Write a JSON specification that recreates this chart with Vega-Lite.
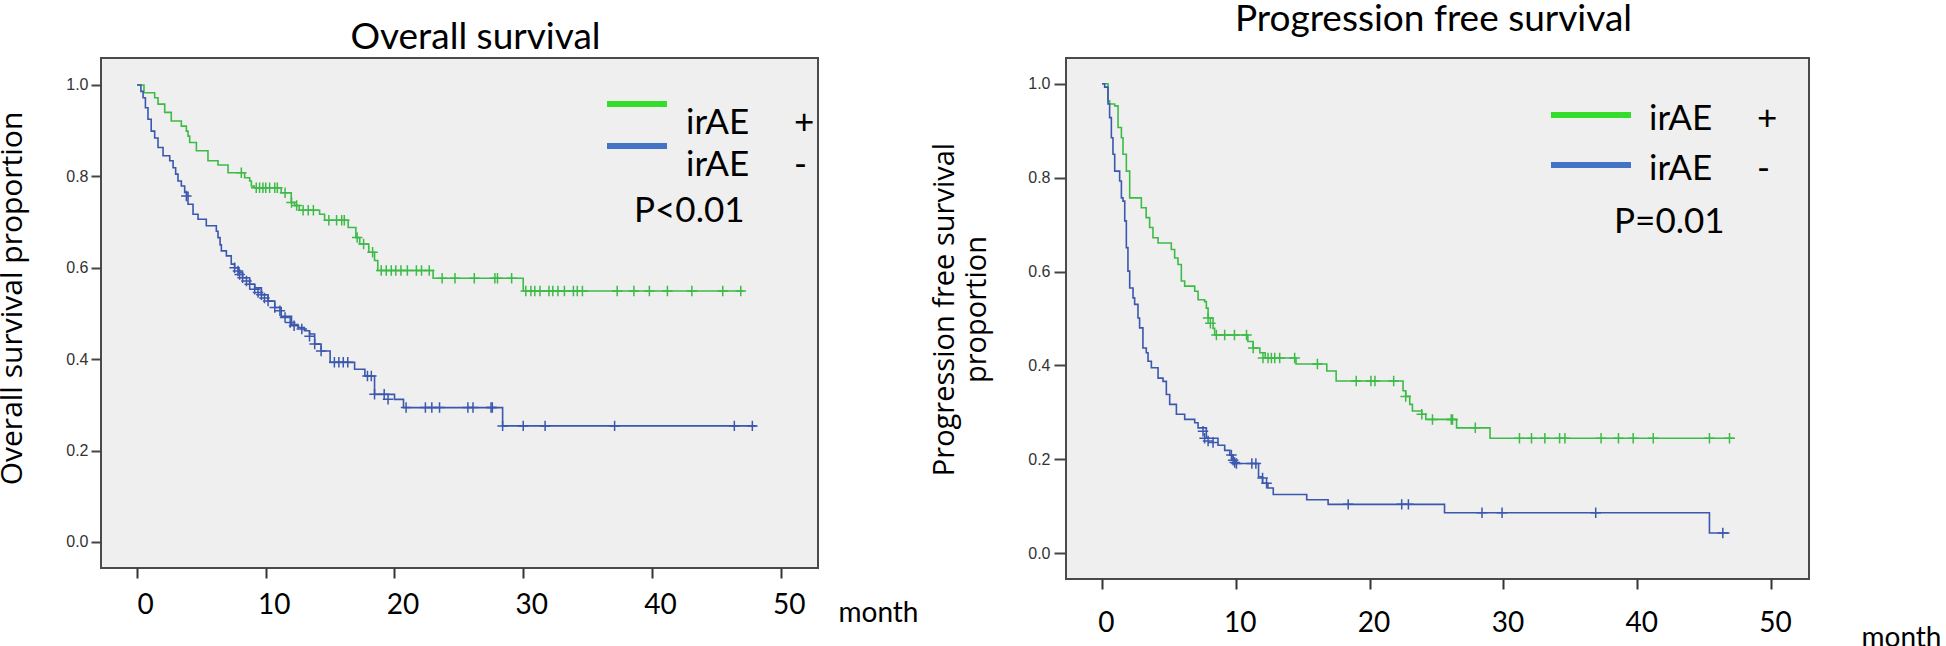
{
  "$schema": "https://vega.github.io/schema/vega-lite/v6.json",
  "padding": {"left": -5, "top": 0, "right": 0, "bottom": 0},
  "autosize": {"type": "pad"},
  "background": "white",
  "config": {
    "view": {"fill": "#efefef", "stroke": "#4a4a4a", "strokeWidth": 2},
    "font": "Lato"
  },
  "datasets": {
    "osCurve": [
      {"g": "irAE+", "t": 0, "s": 1.0}, {"g": "irAE+", "t": 0.54, "s": 0.983}, {"g": "irAE+", "t": 1.37, "s": 0.972}, {"g": "irAE+", "t": 1.63, "s": 0.958},
      {"g": "irAE+", "t": 2.15, "s": 0.94}, {"g": "irAE+", "t": 2.66, "s": 0.921}, {"g": "irAE+", "t": 3.44, "s": 0.91}, {"g": "irAE+", "t": 3.83, "s": 0.899},
      {"g": "irAE+", "t": 3.96, "s": 0.888}, {"g": "irAE+", "t": 4.09, "s": 0.874}, {"g": "irAE+", "t": 4.61, "s": 0.856}, {"g": "irAE+", "t": 5.51, "s": 0.834},
      {"g": "irAE+", "t": 6.29, "s": 0.825}, {"g": "irAE+", "t": 7.07, "s": 0.808}, {"g": "irAE+", "t": 8.36, "s": 0.797}, {"g": "irAE+", "t": 8.75, "s": 0.79},
      {"g": "irAE+", "t": 8.88, "s": 0.779}, {"g": "irAE+", "t": 9.1, "s": 0.775}, {"g": "irAE+", "t": 11.2, "s": 0.764}, {"g": "irAE+", "t": 11.98, "s": 0.743},
      {"g": "irAE+", "t": 12.24, "s": 0.736}, {"g": "irAE+", "t": 12.6, "s": 0.726}, {"g": "irAE+", "t": 14.18, "s": 0.717}, {"g": "irAE+", "t": 14.57, "s": 0.704},
      {"g": "irAE+", "t": 16.4, "s": 0.688}, {"g": "irAE+", "t": 17.0, "s": 0.666}, {"g": "irAE+", "t": 17.3, "s": 0.652}, {"g": "irAE+", "t": 18.0, "s": 0.634},
      {"g": "irAE+", "t": 18.45, "s": 0.616}, {"g": "irAE+", "t": 18.7, "s": 0.594}, {"g": "irAE+", "t": 23.0, "s": 0.577}, {"g": "irAE+", "t": 30.0, "s": 0.549},
      {"g": "irAE+", "t": 47.1, "s": 0.549},
      {"g": "irAE-", "t": 0, "s": 1.0}, {"g": "irAE-", "t": 0.3, "s": 0.986}, {"g": "irAE-", "t": 0.47, "s": 0.972}, {"g": "irAE-", "t": 0.65, "s": 0.95},
      {"g": "irAE-", "t": 0.85, "s": 0.925}, {"g": "irAE-", "t": 1.1, "s": 0.899}, {"g": "irAE-", "t": 1.37, "s": 0.884}, {"g": "irAE-", "t": 1.63, "s": 0.863},
      {"g": "irAE-", "t": 2.02, "s": 0.845}, {"g": "irAE-", "t": 2.54, "s": 0.834}, {"g": "irAE-", "t": 2.8, "s": 0.819}, {"g": "irAE-", "t": 3.0, "s": 0.805},
      {"g": "irAE-", "t": 3.18, "s": 0.79}, {"g": "irAE-", "t": 3.44, "s": 0.779}, {"g": "irAE-", "t": 3.7, "s": 0.765}, {"g": "irAE-", "t": 3.96, "s": 0.739},
      {"g": "irAE-", "t": 4.35, "s": 0.717}, {"g": "irAE-", "t": 4.74, "s": 0.706}, {"g": "irAE-", "t": 5.38, "s": 0.692}, {"g": "irAE-", "t": 6.16, "s": 0.68},
      {"g": "irAE-", "t": 6.29, "s": 0.666}, {"g": "irAE-", "t": 6.45, "s": 0.65}, {"g": "irAE-", "t": 6.55, "s": 0.637}, {"g": "irAE-", "t": 6.94, "s": 0.626},
      {"g": "irAE-", "t": 7.32, "s": 0.608}, {"g": "irAE-", "t": 7.58, "s": 0.6}, {"g": "irAE-", "t": 7.9, "s": 0.59}, {"g": "irAE-", "t": 8.2, "s": 0.578},
      {"g": "irAE-", "t": 8.75, "s": 0.564}, {"g": "irAE-", "t": 9.14, "s": 0.556}, {"g": "irAE-", "t": 9.66, "s": 0.541}, {"g": "irAE-", "t": 10.18, "s": 0.527},
      {"g": "irAE-", "t": 10.7, "s": 0.513}, {"g": "irAE-", "t": 11.2, "s": 0.494}, {"g": "irAE-", "t": 12.0, "s": 0.476}, {"g": "irAE-", "t": 12.5, "s": 0.469},
      {"g": "irAE-", "t": 13.0, "s": 0.462}, {"g": "irAE-", "t": 13.4, "s": 0.455}, {"g": "irAE-", "t": 13.8, "s": 0.433}, {"g": "irAE-", "t": 14.3, "s": 0.418},
      {"g": "irAE-", "t": 15.0, "s": 0.393}, {"g": "irAE-", "t": 16.9, "s": 0.378}, {"g": "irAE-", "t": 17.7, "s": 0.363}, {"g": "irAE-", "t": 18.45, "s": 0.323},
      {"g": "irAE-", "t": 20.0, "s": 0.312}, {"g": "irAE-", "t": 20.7, "s": 0.294}, {"g": "irAE-", "t": 28.4, "s": 0.254}, {"g": "irAE-", "t": 48.1, "s": 0.254}
    ],
    "osCens": [
      {"g": "irAE+", "t": 8.1, "s": 0.808}, {"g": "irAE+", "t": 9.26, "s": 0.775}, {"g": "irAE+", "t": 9.52, "s": 0.775}, {"g": "irAE+", "t": 9.78, "s": 0.775},
      {"g": "irAE+", "t": 10.0, "s": 0.775}, {"g": "irAE+", "t": 10.3, "s": 0.775}, {"g": "irAE+", "t": 10.7, "s": 0.775}, {"g": "irAE+", "t": 10.9, "s": 0.775},
      {"g": "irAE+", "t": 11.5, "s": 0.764}, {"g": "irAE+", "t": 12.0, "s": 0.743}, {"g": "irAE+", "t": 12.4, "s": 0.736}, {"g": "irAE+", "t": 12.9, "s": 0.726},
      {"g": "irAE+", "t": 13.3, "s": 0.726}, {"g": "irAE+", "t": 13.7, "s": 0.726}, {"g": "irAE+", "t": 14.9, "s": 0.704}, {"g": "irAE+", "t": 15.5, "s": 0.704},
      {"g": "irAE+", "t": 15.9, "s": 0.704}, {"g": "irAE+", "t": 16.1, "s": 0.704}, {"g": "irAE+", "t": 17.1, "s": 0.666}, {"g": "irAE+", "t": 17.6, "s": 0.652},
      {"g": "irAE+", "t": 18.3, "s": 0.634},
      {"g": "irAE+", "t": 18.97, "s": 0.594}, {"g": "irAE+", "t": 19.36, "s": 0.594}, {"g": "irAE+", "t": 19.75, "s": 0.594}, {"g": "irAE+", "t": 20.1, "s": 0.594},
      {"g": "irAE+", "t": 20.5, "s": 0.594}, {"g": "irAE+", "t": 21.0, "s": 0.594}, {"g": "irAE+", "t": 21.7, "s": 0.594}, {"g": "irAE+", "t": 22.1, "s": 0.594},
      {"g": "irAE+", "t": 22.7, "s": 0.594},
      {"g": "irAE+", "t": 23.7, "s": 0.577}, {"g": "irAE+", "t": 24.7, "s": 0.577}, {"g": "irAE+", "t": 26.2, "s": 0.577}, {"g": "irAE+", "t": 27.8, "s": 0.577},
      {"g": "irAE+", "t": 28.0, "s": 0.577}, {"g": "irAE+", "t": 29.1, "s": 0.577},
      {"g": "irAE+", "t": 30.2, "s": 0.549}, {"g": "irAE+", "t": 30.6, "s": 0.549}, {"g": "irAE+", "t": 30.9, "s": 0.549}, {"g": "irAE+", "t": 31.3, "s": 0.549},
      {"g": "irAE+", "t": 32.0, "s": 0.549}, {"g": "irAE+", "t": 32.3, "s": 0.549}, {"g": "irAE+", "t": 32.7, "s": 0.549}, {"g": "irAE+", "t": 33.2, "s": 0.549},
      {"g": "irAE+", "t": 33.9, "s": 0.549}, {"g": "irAE+", "t": 34.2, "s": 0.549}, {"g": "irAE+", "t": 34.6, "s": 0.549}, {"g": "irAE+", "t": 37.3, "s": 0.549},
      {"g": "irAE+", "t": 38.6, "s": 0.549}, {"g": "irAE+", "t": 39.8, "s": 0.549}, {"g": "irAE+", "t": 41.2, "s": 0.549}, {"g": "irAE+", "t": 43.1, "s": 0.549},
      {"g": "irAE+", "t": 45.5, "s": 0.549}, {"g": "irAE+", "t": 46.9, "s": 0.549},
      {"g": "irAE-", "t": 3.83, "s": 0.757}, {"g": "irAE-", "t": 7.58, "s": 0.6}, {"g": "irAE-", "t": 7.84, "s": 0.593}, {"g": "irAE-", "t": 7.97, "s": 0.585},
      {"g": "irAE-", "t": 8.2, "s": 0.578}, {"g": "irAE-", "t": 8.5, "s": 0.571}, {"g": "irAE-", "t": 8.75, "s": 0.564}, {"g": "irAE-", "t": 9.14, "s": 0.553},
      {"g": "irAE-", "t": 9.4, "s": 0.546}, {"g": "irAE-", "t": 9.66, "s": 0.541}, {"g": "irAE-", "t": 9.9, "s": 0.534}, {"g": "irAE-", "t": 10.18, "s": 0.527},
      {"g": "irAE-", "t": 10.7, "s": 0.513}, {"g": "irAE-", "t": 11.1, "s": 0.506}, {"g": "irAE-", "t": 11.5, "s": 0.491}, {"g": "irAE-", "t": 11.9, "s": 0.48},
      {"g": "irAE-", "t": 12.2, "s": 0.473}, {"g": "irAE-", "t": 12.8, "s": 0.466}, {"g": "irAE-", "t": 13.4, "s": 0.45}, {"g": "irAE-", "t": 13.8, "s": 0.433},
      {"g": "irAE-", "t": 14.3, "s": 0.418}, {"g": "irAE-", "t": 15.33, "s": 0.393}, {"g": "irAE-", "t": 15.68, "s": 0.393}, {"g": "irAE-", "t": 16.02, "s": 0.393},
      {"g": "irAE-", "t": 16.37, "s": 0.393}, {"g": "irAE-", "t": 17.9, "s": 0.363}, {"g": "irAE-", "t": 18.2, "s": 0.363}, {"g": "irAE-", "t": 18.45, "s": 0.323},
      {"g": "irAE-", "t": 19.2, "s": 0.323}, {"g": "irAE-", "t": 19.5, "s": 0.312},
      {"g": "irAE-", "t": 20.9, "s": 0.294}, {"g": "irAE-", "t": 22.4, "s": 0.294}, {"g": "irAE-", "t": 22.9, "s": 0.294}, {"g": "irAE-", "t": 23.5, "s": 0.294},
      {"g": "irAE-", "t": 25.7, "s": 0.294}, {"g": "irAE-", "t": 26.1, "s": 0.294}, {"g": "irAE-", "t": 27.5, "s": 0.294}, {"g": "irAE-", "t": 27.6, "s": 0.294},
      {"g": "irAE-", "t": 28.4, "s": 0.254}, {"g": "irAE-", "t": 30.0, "s": 0.254}, {"g": "irAE-", "t": 31.7, "s": 0.254}, {"g": "irAE-", "t": 37.1, "s": 0.254},
      {"g": "irAE-", "t": 46.4, "s": 0.254}, {"g": "irAE-", "t": 47.8, "s": 0.254}
    ],
    "pfsCurve": [
      {"g": "irAE+", "t": 0, "s": 1.0}, {"g": "irAE+", "t": 0.45, "s": 0.964}, {"g": "irAE+", "t": 0.57, "s": 0.957}, {"g": "irAE+", "t": 0.95, "s": 0.953},
      {"g": "irAE+", "t": 1.2, "s": 0.907}, {"g": "irAE+", "t": 1.45, "s": 0.885}, {"g": "irAE+", "t": 1.57, "s": 0.85}, {"g": "irAE+", "t": 1.82, "s": 0.814},
      {"g": "irAE+", "t": 2.07, "s": 0.757}, {"g": "irAE+", "t": 2.94, "s": 0.736}, {"g": "irAE+", "t": 3.3, "s": 0.715}, {"g": "irAE+", "t": 3.56, "s": 0.694},
      {"g": "irAE+", "t": 3.81, "s": 0.672}, {"g": "irAE+", "t": 4.19, "s": 0.661}, {"g": "irAE+", "t": 5.18, "s": 0.647}, {"g": "irAE+", "t": 5.43, "s": 0.629},
      {"g": "irAE+", "t": 5.68, "s": 0.615}, {"g": "irAE+", "t": 5.93, "s": 0.58}, {"g": "irAE+", "t": 6.18, "s": 0.569}, {"g": "irAE+", "t": 6.93, "s": 0.558},
      {"g": "irAE+", "t": 7.18, "s": 0.54}, {"g": "irAE+", "t": 7.67, "s": 0.536}, {"g": "irAE+", "t": 7.8, "s": 0.522}, {"g": "irAE+", "t": 7.93, "s": 0.501},
      {"g": "irAE+", "t": 8.3, "s": 0.479}, {"g": "irAE+", "t": 8.42, "s": 0.465}, {"g": "irAE+", "t": 10.9, "s": 0.451}, {"g": "irAE+", "t": 11.3, "s": 0.437},
      {"g": "irAE+", "t": 11.8, "s": 0.427}, {"g": "irAE+", "t": 12.2, "s": 0.416}, {"g": "irAE+", "t": 14.5, "s": 0.403}, {"g": "irAE+", "t": 16.8, "s": 0.388},
      {"g": "irAE+", "t": 17.5, "s": 0.367}, {"g": "irAE+", "t": 22.5, "s": 0.346}, {"g": "irAE+", "t": 22.7, "s": 0.334}, {"g": "irAE+", "t": 23.0, "s": 0.317},
      {"g": "irAE+", "t": 23.2, "s": 0.303}, {"g": "irAE+", "t": 23.9, "s": 0.296}, {"g": "irAE+", "t": 24.2, "s": 0.285}, {"g": "irAE+", "t": 26.5, "s": 0.267},
      {"g": "irAE+", "t": 29.0, "s": 0.245}, {"g": "irAE+", "t": 47.3, "s": 0.245},
      {"g": "irAE-", "t": 0, "s": 1.0}, {"g": "irAE-", "t": 0.2, "s": 0.993}, {"g": "irAE-", "t": 0.45, "s": 0.957}, {"g": "irAE-", "t": 0.57, "s": 0.928},
      {"g": "irAE-", "t": 0.7, "s": 0.885}, {"g": "irAE-", "t": 0.82, "s": 0.85}, {"g": "irAE-", "t": 0.95, "s": 0.814}, {"g": "irAE-", "t": 1.32, "s": 0.793},
      {"g": "irAE-", "t": 1.45, "s": 0.757}, {"g": "irAE-", "t": 1.57, "s": 0.75}, {"g": "irAE-", "t": 1.7, "s": 0.708}, {"g": "irAE-", "t": 1.82, "s": 0.651},
      {"g": "irAE-", "t": 1.94, "s": 0.601}, {"g": "irAE-", "t": 2.07, "s": 0.565}, {"g": "irAE-", "t": 2.32, "s": 0.544}, {"g": "irAE-", "t": 2.44, "s": 0.53},
      {"g": "irAE-", "t": 2.69, "s": 0.501}, {"g": "irAE-", "t": 2.81, "s": 0.48}, {"g": "irAE-", "t": 3.06, "s": 0.437}, {"g": "irAE-", "t": 3.31, "s": 0.427},
      {"g": "irAE-", "t": 3.44, "s": 0.409}, {"g": "irAE-", "t": 3.69, "s": 0.395}, {"g": "irAE-", "t": 4.19, "s": 0.373}, {"g": "irAE-", "t": 4.56, "s": 0.366},
      {"g": "irAE-", "t": 4.81, "s": 0.338}, {"g": "irAE-", "t": 5.06, "s": 0.317}, {"g": "irAE-", "t": 5.56, "s": 0.296}, {"g": "irAE-", "t": 6.18, "s": 0.285},
      {"g": "irAE-", "t": 6.93, "s": 0.278}, {"g": "irAE-", "t": 7.18, "s": 0.267}, {"g": "irAE-", "t": 7.8, "s": 0.245}, {"g": "irAE-", "t": 8.67, "s": 0.23},
      {"g": "irAE-", "t": 9.17, "s": 0.219}, {"g": "irAE-", "t": 9.55, "s": 0.209}, {"g": "irAE-", "t": 9.79, "s": 0.198}, {"g": "irAE-", "t": 9.92, "s": 0.191},
      {"g": "irAE-", "t": 11.7, "s": 0.163}, {"g": "irAE-", "t": 12.0, "s": 0.149}, {"g": "irAE-", "t": 12.4, "s": 0.139}, {"g": "irAE-", "t": 12.8, "s": 0.125},
      {"g": "irAE-", "t": 15.3, "s": 0.114}, {"g": "irAE-", "t": 16.9, "s": 0.104}, {"g": "irAE-", "t": 25.6, "s": 0.086}, {"g": "irAE-", "t": 45.4, "s": 0.043},
      {"g": "irAE-", "t": 46.9, "s": 0.043}
    ],
    "pfsCens": [
      {"g": "irAE+", "t": 7.93, "s": 0.501}, {"g": "irAE+", "t": 8.1, "s": 0.49}, {"g": "irAE+", "t": 8.55, "s": 0.465}, {"g": "irAE+", "t": 9.17, "s": 0.465},
      {"g": "irAE+", "t": 9.9, "s": 0.465}, {"g": "irAE+", "t": 10.8, "s": 0.465}, {"g": "irAE+", "t": 11.3, "s": 0.437}, {"g": "irAE+", "t": 12.03, "s": 0.416},
      {"g": "irAE+", "t": 12.41, "s": 0.416}, {"g": "irAE+", "t": 12.66, "s": 0.416}, {"g": "irAE+", "t": 12.91, "s": 0.416}, {"g": "irAE+", "t": 13.28, "s": 0.416},
      {"g": "irAE+", "t": 14.4, "s": 0.416}, {"g": "irAE+", "t": 16.1, "s": 0.403}, {"g": "irAE+", "t": 19.0, "s": 0.367}, {"g": "irAE+", "t": 20.1, "s": 0.367},
      {"g": "irAE+", "t": 20.4, "s": 0.367}, {"g": "irAE+", "t": 21.8, "s": 0.367}, {"g": "irAE+", "t": 22.7, "s": 0.334}, {"g": "irAE+", "t": 23.9, "s": 0.296},
      {"g": "irAE+", "t": 24.7, "s": 0.285}, {"g": "irAE+", "t": 26.1, "s": 0.285}, {"g": "irAE+", "t": 26.2, "s": 0.285}, {"g": "irAE+", "t": 27.9, "s": 0.267},
      {"g": "irAE+", "t": 31.2, "s": 0.245}, {"g": "irAE+", "t": 32.1, "s": 0.245}, {"g": "irAE+", "t": 33.1, "s": 0.245}, {"g": "irAE+", "t": 34.2, "s": 0.245},
      {"g": "irAE+", "t": 34.6, "s": 0.245}, {"g": "irAE+", "t": 37.3, "s": 0.245}, {"g": "irAE+", "t": 38.6, "s": 0.245}, {"g": "irAE+", "t": 39.7, "s": 0.245},
      {"g": "irAE+", "t": 41.2, "s": 0.245}, {"g": "irAE+", "t": 45.4, "s": 0.245}, {"g": "irAE+", "t": 46.9, "s": 0.245},
      {"g": "irAE-", "t": 7.55, "s": 0.26}, {"g": "irAE-", "t": 7.67, "s": 0.245}, {"g": "irAE-", "t": 7.93, "s": 0.239}, {"g": "irAE-", "t": 8.3, "s": 0.236},
      {"g": "irAE-", "t": 9.67, "s": 0.209}, {"g": "irAE-", "t": 9.8, "s": 0.198}, {"g": "irAE-", "t": 9.92, "s": 0.193}, {"g": "irAE-", "t": 10.05, "s": 0.191},
      {"g": "irAE-", "t": 11.2, "s": 0.191}, {"g": "irAE-", "t": 11.5, "s": 0.191}, {"g": "irAE-", "t": 12.0, "s": 0.16}, {"g": "irAE-", "t": 12.3, "s": 0.149},
      {"g": "irAE-", "t": 18.4, "s": 0.104}, {"g": "irAE-", "t": 22.4, "s": 0.104}, {"g": "irAE-", "t": 22.9, "s": 0.104}, {"g": "irAE-", "t": 28.4, "s": 0.086},
      {"g": "irAE-", "t": 29.9, "s": 0.086}, {"g": "irAE-", "t": 36.9, "s": 0.086}, {"g": "irAE-", "t": 46.4, "s": 0.043}
    ],
    "osP": [{"label": "P<0.01", "t": 42.9, "s": 0.724}],
    "pfsP": [{"label": "P=0.01", "t": 42.4, "s": 0.706}]
  },
  "hconcat": [
    {
      "width": 717,
      "height": 510,
      "title": {"text": "Overall survival", "font": "Lato", "fontSize": 37, "fontWeight": "normal", "color": "black", "offset": 1, "dx": 16},
      "resolve": {"scale": {"color": "independent"}},
      "layer": [
        {
          "data": {"name": "osCurve"},
          "mark": {"type": "line", "interpolate": "step-after", "strokeWidth": 1.6},
          "encoding": {
            "x": {"field": "t", "type": "quantitative", "scale": {"domain": [-2.8, 52.9], "nice": false, "zero": false},
              "axis": {"values": [0, 10, 20, 30, 40, 50], "title": "month", "titleX": 737, "titleY": 45, "titleAlign": "left", "titleBaseline": "middle", "titleFont": "Lato", "titleFontSize": 28, "titleFontWeight": "normal", "titleColor": "black",
                "labelFont": "Lato", "labelFontSize": 28, "labelColor": "black", "labelFlush": false, "labelOffset": 8, "tickColor": "#333", "tickWidth": 2, "tickSize": 10, "labelPadding": 13, "domain": false, "grid": false}},
            "y": {"field": "s", "type": "quantitative", "scale": {"domain": [-0.057, 1.059], "nice": false, "zero": false},
              "axis": {"values": [0, 0.2, 0.4, 0.6, 0.8, 1.0], "format": ".1f", "labelFont": "Liberation Sans", "labelFontSize": 16, "labelColor": "#333", "tickSize": 10, "tickWidth": 2, "tickColor": "#444", "labelPadding": 3, "domain": false, "grid": false,
                "title": "Overall survival proportion", "titleFont": "Open Sans", "titleFontSize": 30, "titleFontWeight": "normal", "titleColor": "black", "titleX": -74, "titleY": 240}},
            "color": {"field": "g", "type": "nominal", "scale": {"domain": ["irAE+", "irAE-"], "range": ["#3dbb47", "#3b57ae"]}, "legend": null}
          }
        },
        {
          "data": {"name": "osCens"},
          "mark": {"type": "point", "shape": "M-1,0L1,0M0,-1L0,1", "filled": false, "size": 110, "strokeWidth": 1.5, "opacity": 1},
          "encoding": {
            "x": {"field": "t", "type": "quantitative"},
            "y": {"field": "s", "type": "quantitative"},
            "color": {"field": "g", "type": "nominal", "scale": {"domain": ["irAE+", "irAE-"], "range": ["#3dbb47", "#3b57ae"]}, "legend": null}
          }
        },
        {
          "data": {"name": "osCurve"},
          "mark": {"type": "line", "opacity": 0, "strokeWidth": 6},
          "encoding": {
            "x": {"field": "t", "type": "quantitative"},
            "y": {"field": "s", "type": "quantitative"},
            "color": {"field": "g", "type": "nominal", "scale": {"domain": ["irAE+", "irAE-"], "range": ["#33dd2a", "#4472c4"]},
              "legend": {"title": null, "orient": "none", "legendX": 518, "legendY": 47, "symbolType": "M-2,-1.267L2,-1.267", "symbolSize": 900, "symbolStrokeWidth": 6, "symbolOpacity": 1, "symbolFillColor": "transparent",
                "labelFont": "Lato", "labelFontSize": 35, "labelColor": "black", "labelOffset": 31, "labelBaseline": "middle", "rowPadding": -8, "padding": 0, "labelLimit": 400,
                "labelExpr": "datum.label == 'irAE+' ? 'irAE\u00a0\u00a0\u00a0\u00a0\u00a0+' : 'irAE\u00a0\u00a0\u00a0\u00a0\u00a0-'"}}
          }
        },
        {
          "data": {"name": "osP"},
          "mark": {"type": "text", "font": "Lato", "fontSize": 35, "color": "black", "align": "center", "baseline": "middle"},
          "encoding": {
            "x": {"field": "t", "type": "quantitative"},
            "y": {"field": "s", "type": "quantitative"},
            "text": {"field": "label"}
          }
        }
      ]
    },
    {
      "width": 743,
      "height": 521,
      "title": {"text": "Progression free survival", "font": "Lato", "fontSize": 37, "fontWeight": "normal", "color": "black", "offset": 19, "dx": -4},
      "resolve": {"scale": {"color": "independent"}},
      "layer": [
        {
          "data": {"name": "pfsCurve"},
          "mark": {"type": "line", "interpolate": "step-after", "strokeWidth": 1.6},
          "encoding": {
            "x": {"field": "t", "type": "quantitative", "scale": {"domain": [-2.69, 52.84], "nice": false, "zero": false},
              "axis": {"values": [0, 10, 20, 30, 40, 50], "title": "month", "titleX": 795, "titleY": 59, "titleAlign": "left", "titleBaseline": "middle", "titleFont": "Lato", "titleFontSize": 28, "titleFontWeight": "normal", "titleColor": "black",
                "labelFont": "Lato", "labelFontSize": 28, "labelColor": "black", "labelFlush": false, "labelOffset": 4, "tickColor": "#333", "tickWidth": 2, "tickSize": 10, "labelPadding": 20, "domain": false, "grid": false}},
            "y": {"field": "s", "type": "quantitative", "scale": {"domain": [-0.055, 1.055], "nice": false, "zero": false},
              "axis": {"values": [0, 0.2, 0.4, 0.6, 0.8, 1.0], "format": ".1f", "labelFont": "Liberation Sans", "labelFontSize": 16, "labelColor": "#333", "tickSize": 12, "tickWidth": 2, "tickColor": "#444", "labelPadding": 4, "domain": false, "grid": false,
                "title": ["Progression free survival", "proportion"], "titleFont": "Open Sans", "titleFontSize": 29, "titleLineHeight": 32, "titleFontWeight": "normal", "titleColor": "black", "titleX": -107, "titleY": 251}},
            "color": {"field": "g", "type": "nominal", "scale": {"domain": ["irAE+", "irAE-"], "range": ["#3dbb47", "#3b57ae"]}, "legend": null}
          }
        },
        {
          "data": {"name": "pfsCens"},
          "mark": {"type": "point", "shape": "M-1,0L1,0M0,-1L0,1", "filled": false, "size": 110, "strokeWidth": 1.5, "opacity": 1},
          "encoding": {
            "x": {"field": "t", "type": "quantitative"},
            "y": {"field": "s", "type": "quantitative"},
            "color": {"field": "g", "type": "nominal", "scale": {"domain": ["irAE+", "irAE-"], "range": ["#3dbb47", "#3b57ae"]}, "legend": null}
          }
        },
        {
          "data": {"name": "pfsCurve"},
          "mark": {"type": "line", "opacity": 0, "strokeWidth": 6},
          "encoding": {
            "x": {"field": "t", "type": "quantitative"},
            "y": {"field": "s", "type": "quantitative"},
            "color": {"field": "g", "type": "nominal", "scale": {"domain": ["irAE+", "irAE-"], "range": ["#33dd2a", "#4472c4"]},
              "legend": {"title": null, "orient": "none", "legendX": 502, "legendY": 38, "symbolType": "M-2,-0.2L2,-0.2", "symbolSize": 1600, "symbolStrokeWidth": 6, "symbolOpacity": 1, "symbolFillColor": "transparent",
                "labelFont": "Lato", "labelFontSize": 35, "labelColor": "black", "labelOffset": 35, "labelBaseline": "middle", "rowPadding": 9, "padding": 0, "labelLimit": 400,
                "labelExpr": "datum.label == 'irAE+' ? 'irAE\u00a0\u00a0\u00a0\u00a0\u00a0+' : 'irAE\u00a0\u00a0\u00a0\u00a0\u00a0-'"}}
          }
        },
        {
          "data": {"name": "pfsP"},
          "mark": {"type": "text", "font": "Lato", "fontSize": 35, "color": "black", "align": "center", "baseline": "middle"},
          "encoding": {
            "x": {"field": "t", "type": "quantitative"},
            "y": {"field": "s", "type": "quantitative"},
            "text": {"field": "label"}
          }
        }
      ]
    }
  ],
  "spacing": 248,
  "bounds": "flush"
}
